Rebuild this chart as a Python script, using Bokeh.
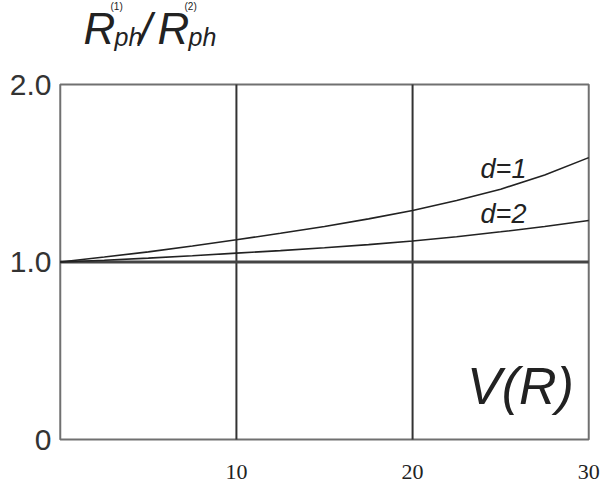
from bokeh.plotting import figure
from bokeh.models import Label, FixedTicker, Range1d
from bokeh.embed import file_html
from bokeh.resources import INLINE

# ---- data ----
x_vals = [0, 2.5, 5, 7.5, 10, 12.5, 15, 17.5, 20, 22.5, 25, 27.5, 30]
d1_vals = [1.0, 1.028, 1.057, 1.09, 1.125, 1.162, 1.20, 1.243, 1.29, 1.346, 1.41, 1.49, 1.588]
d2_vals = [1.0, 1.01, 1.022, 1.035, 1.05, 1.064, 1.08, 1.098, 1.118, 1.142, 1.17, 1.20, 1.234]
x_limits = [0, 30]
y_limits = [0, 2]
x_ticks = [10, 20, 30]
x_tick_labels = ["10", "20", "30"]
x_grid = [10, 20]
y_ticks = [0, 1, 2]
y_tick_labels = ["0", "1.0", "2.0"]
y_grid = [1]
series_names = ["d=1", "d=2"]

# frame geometry (pixels)
W, H = 600, 484
LEFT, TOP, BOTTOM = 58, 0, 41
FRAME_W = 532
X0, X1 = -0.1, 30.1
PX_PER_Y = 177.5
FRAME_H = H - TOP - BOTTOM
Y0 = -4 / PX_PER_Y
Y1 = Y0 + FRAME_H / PX_PER_Y

p = figure(width=W, height=H, output_backend="svg", toolbar_location=None, title=None,
           x_range=Range1d(X0, X1), y_range=Range1d(Y0, Y1),
           min_border_left=LEFT, min_border_right=W - LEFT - FRAME_W,
           min_border_top=TOP, min_border_bottom=BOTTOM)
p.background_fill_color = "white"
p.border_fill_color = "white"
p.outline_line_color = None
p.xgrid.visible = False
p.ygrid.visible = False

# axes
p.xaxis.ticker = FixedTicker(ticks=x_ticks)
p.xaxis.major_label_overrides = dict(zip(x_ticks, x_tick_labels))
p.xaxis.axis_line_color = None
p.xaxis.major_tick_line_color = None
p.xaxis.minor_tick_line_color = None
p.xaxis.major_label_text_font = "Liberation Serif"
p.xaxis.major_label_text_font_size = "22px"
p.xaxis.major_label_text_color = "#222222"
p.xaxis.major_label_standoff = 15

p.yaxis.ticker = FixedTicker(ticks=y_ticks)
p.yaxis.major_label_overrides = dict(zip(y_ticks, y_tick_labels))
p.yaxis.axis_line_color = None
p.yaxis.major_tick_line_color = None
p.yaxis.minor_tick_line_color = None
p.yaxis.major_label_text_font = "Liberation Sans"
p.yaxis.major_label_text_font_size = "30px"
p.yaxis.major_label_text_color = "#333333"
p.yaxis.major_label_standoff = 1

# box
p.quad(left=[x_limits[0]], right=[x_limits[1]], bottom=[y_limits[0]], top=[y_limits[1]],
       fill_color=None, line_color="#707070", line_width=2)

# grid lines
p.segment(x0=x_grid, y0=[y_limits[0]] * len(x_grid), x1=x_grid, y1=[y_limits[1]] * len(x_grid),
          line_color="#333333", line_width=2)
p.segment(x0=[x_limits[0]] * len(y_grid), y0=y_grid, x1=[x_limits[1]] * len(y_grid), y1=y_grid,
          line_color="#444444", line_width=3)

# curves
p.line(x_vals, d1_vals, line_color="#222222", line_width=1.6)
p.line(x_vals, d2_vals, line_color="#222222", line_width=1.6)


def xd(px):
    return X0 + (px - LEFT) * (X1 - X0) / FRAME_W


def yd(py):
    return Y1 - (py - TOP) / PX_PER_Y


def yb(baseline_px, fs):
    # anchor so that the rendered baseline lands at baseline_px
    return yd(baseline_px - 0.43 * fs)


# curve labels
p.add_layout(Label(x=xd(503), y=yb(180, 27), text=series_names[0], text_font="Liberation Sans",
                   text_font_style="italic", text_font_size="27px", text_color="#222222",
                   text_align="center", text_baseline="alphabetic"))
p.add_layout(Label(x=xd(503), y=yb(225, 27), text=series_names[1], text_font="Liberation Sans",
                   text_font_style="italic", text_font_size="27px", text_color="#222222",
                   text_align="center", text_baseline="alphabetic"))

# axis title V(R)
p.add_layout(Label(x=xd(520), y=yb(408, 52), text="V(R)", text_font="Liberation Sans",
                   text_font_style="italic", text_font_size="52px", text_color="#222222",
                   text_align="center", text_baseline="alphabetic"))

# y title R_ph^(1)/R_ph^(2)
common = dict(text_font="Liberation Sans", text_color="#222222", text_baseline="alphabetic")
p.add_layout(Label(x=xd(83), y=yb(47, 44), text="R", text_font_style="italic",
                   text_font_size="44px", **common))
p.add_layout(Label(x=xd(114), y=yb(47, 25), text="ph", text_font_style="italic",
                   text_font_size="25px", **common))
p.add_layout(Label(x=xd(110), y=yb(10, 10), text="(1)", text_font_size="10px", **common))
p.add_layout(Label(x=xd(139), y=yb(47, 44), text="/", text_font_style="italic",
                   text_font_size="44px", **common))
p.add_layout(Label(x=xd(157), y=yb(47, 44), text="R", text_font_style="italic",
                   text_font_size="44px", **common))
p.add_layout(Label(x=xd(188), y=yb(47, 25), text="ph", text_font_style="italic",
                   text_font_size="25px", **common))
p.add_layout(Label(x=xd(184), y=yb(10, 10), text="(2)", text_font_size="10px", **common))

open("out.html", "w").write(file_html(p, INLINE))
